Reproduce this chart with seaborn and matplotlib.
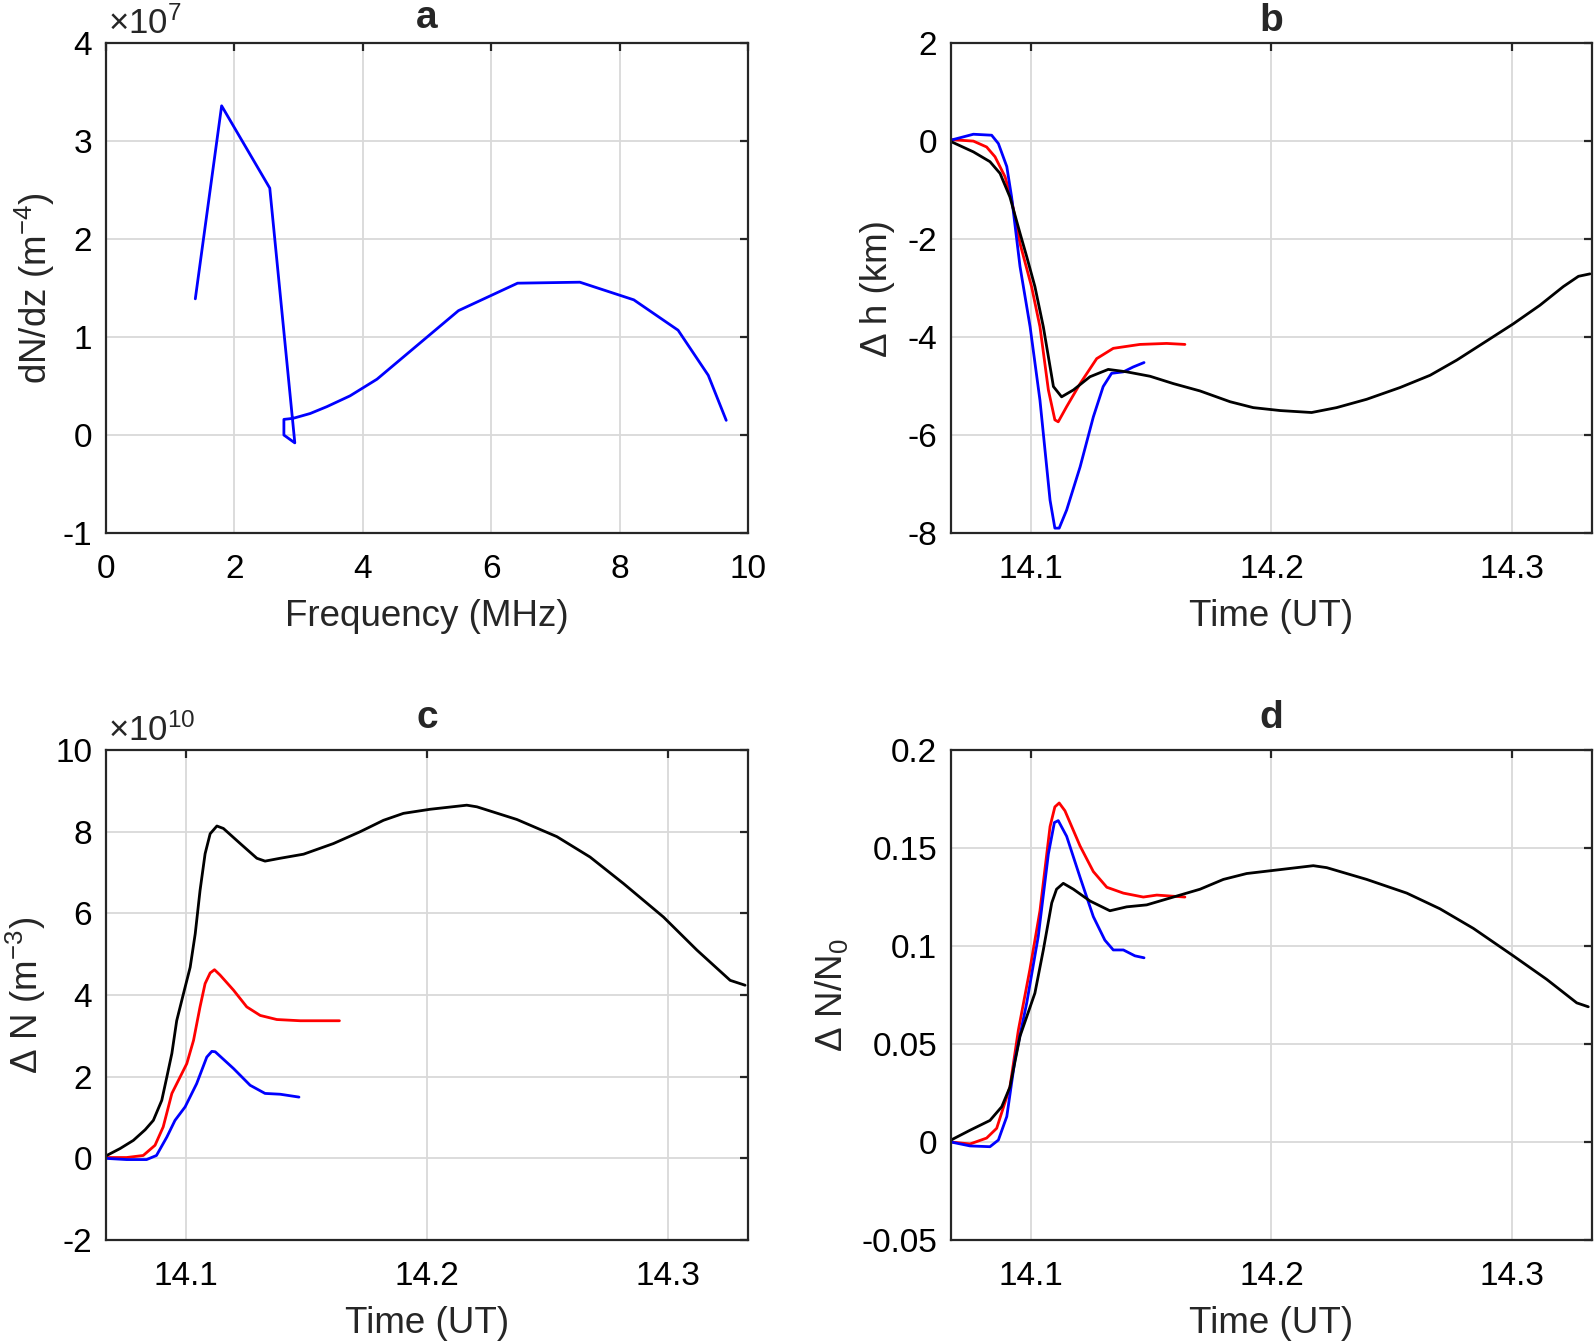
import numpy as np
import matplotlib
matplotlib.use("Agg")
import matplotlib.pyplot as plt
import seaborn as sns
from matplotlib.ticker import FuncFormatter

# panel a: gradient profile (x in MHz, y in 1e7 m^-4)
freq_mhz = [1.39, 1.80, 2.55, 2.94, 2.77, 2.77, 2.91, 3.18, 3.44, 3.80, 4.22,
            5.49, 6.41, 7.38, 8.22, 8.91, 9.38, 9.66]
dndz_e7 = [1.39, 3.36, 2.52, -0.08, 0.0, 0.16, 0.17, 0.22, 0.29, 0.40, 0.57,
           1.27, 1.55, 1.56, 1.38, 1.07, 0.61, 0.15]

# panel b: height change (km)
tb_blue = [14.0667, 14.0760, 14.0836, 14.0864, 14.0899, 14.0919, 14.0954, 14.0996,
           14.1037, 14.1079, 14.1099, 14.1117, 14.1148, 14.1204, 14.1259, 14.1300,
           14.1335, 14.1384, 14.1425, 14.1470]
dh_blue = [0.02, 0.14, 0.12, -0.05, -0.52, -1.14, -2.56, -3.79, -5.29, -7.33, -7.90,
           -7.90, -7.53, -6.65, -5.63, -5.01, -4.74, -4.71, -4.61, -4.52]
tb_red = [14.0667, 14.0760, 14.0815, 14.0850, 14.0892, 14.0919, 14.0954, 14.1002,
          14.1037, 14.1072, 14.1099, 14.1113, 14.1148, 14.1204, 14.1273, 14.1342,
          14.1453, 14.1564, 14.1640]
dh_red = [0.03, 0.0, -0.12, -0.32, -0.73, -1.20, -2.09, -2.97, -3.79, -5.08, -5.69,
          -5.73, -5.42, -4.95, -4.44, -4.23, -4.15, -4.13, -4.15]
tb_black = [14.0667, 14.0760, 14.0829, 14.0871, 14.0912, 14.0954, 14.0982, 14.1016,
            14.1051, 14.1093, 14.1127, 14.1176, 14.1245, 14.1321, 14.1398, 14.1495,
            14.1592, 14.1703, 14.1828, 14.1924, 14.2036, 14.2167, 14.2271, 14.2396,
            14.2535, 14.2660, 14.2771, 14.2895, 14.3006, 14.3117, 14.3214, 14.3277,
            14.3325]
dh_black = [-0.01, -0.22, -0.42, -0.66, -1.14, -1.88, -2.36, -2.97, -3.79, -5.01,
            -5.22, -5.08, -4.81, -4.66, -4.71, -4.80, -4.95, -5.10, -5.32, -5.44,
            -5.50, -5.54, -5.44, -5.27, -5.03, -4.78, -4.47, -4.08, -3.73, -3.35,
            -2.97, -2.76, -2.71]

# panel c: density change (1e10 m^-3)
tc_blue = [14.0663, 14.0752, 14.0835, 14.0876, 14.0919, 14.0953, 14.0995, 14.1043,
           14.1085, 14.1106, 14.1120, 14.1196, 14.1265, 14.1327, 14.1390, 14.1468]
dn_blue = [0.0, -0.03, -0.03, 0.07, 0.52, 0.93, 1.26, 1.83, 2.48, 2.62, 2.61, 2.20,
           1.79, 1.59, 1.57, 1.50]
tc_red = [14.0663, 14.0752, 14.0821, 14.0870, 14.0904, 14.0940, 14.0974, 14.1002,
          14.1030, 14.1057, 14.1078, 14.1099, 14.1117, 14.1140, 14.1196, 14.1251,
          14.1307, 14.1376, 14.1473, 14.1542, 14.1636]
dn_red = [0.02, 0.02, 0.07, 0.32, 0.77, 1.59, 1.99, 2.32, 2.89, 3.71, 4.28, 4.54,
          4.62, 4.49, 4.12, 3.71, 3.50, 3.40, 3.37, 3.37, 3.37]
tc_black = [14.0663, 14.0725, 14.0780, 14.0829, 14.0863, 14.0898, 14.0919, 14.0940,
            14.0960, 14.0988, 14.1016, 14.1037, 14.1057, 14.1078, 14.1099, 14.1127,
            14.1154, 14.1224, 14.1293, 14.1327, 14.1390, 14.1487, 14.1611, 14.1722,
            14.1819, 14.1902, 14.2013, 14.2165, 14.2207, 14.2373, 14.2539, 14.2677,
            14.2816, 14.2982, 14.3121, 14.3259, 14.3321]
dn_black = [0.05, 0.24, 0.44, 0.70, 0.93, 1.42, 1.99, 2.57, 3.37, 4.03, 4.68, 5.50,
            6.56, 7.46, 7.95, 8.14, 8.08, 7.71, 7.35, 7.28, 7.35, 7.45, 7.71, 8.00,
            8.28, 8.45, 8.55, 8.65, 8.61, 8.30, 7.88, 7.38, 6.73, 5.91, 5.10, 4.36,
            4.24]

# panel d: relative density change
td_red = [14.0667, 14.0746, 14.0815, 14.0857, 14.0912, 14.0947, 14.0995, 14.1037,
          14.1079, 14.1099, 14.1117, 14.1141, 14.1204, 14.1259, 14.1315, 14.1384,
          14.1467, 14.1523, 14.1640]
rel_red = [0.0, -0.001, 0.002, 0.007, 0.028, 0.057, 0.088, 0.118, 0.161, 0.171,
           0.173, 0.169, 0.151, 0.138, 0.130, 0.127, 0.125, 0.126, 0.125]
td_blue = [14.0667, 14.0746, 14.0829, 14.0864, 14.0899, 14.0933, 14.0982, 14.1030,
           14.1072, 14.1097, 14.1113, 14.1148, 14.1204, 14.1259, 14.1307, 14.1342,
           14.1384, 14.1432, 14.1470]
rel_blue = [0.0, -0.002, -0.0024, 0.001, 0.013, 0.042, 0.071, 0.105, 0.147, 0.163,
            0.164, 0.156, 0.135, 0.115, 0.103, 0.098, 0.098, 0.095, 0.094]
td_black = [14.0667, 14.0746, 14.0829, 14.0878, 14.0912, 14.0954, 14.1016, 14.1051,
            14.1086, 14.1106, 14.1134, 14.1176, 14.1245, 14.1328, 14.1398, 14.1481,
            14.1592, 14.1703, 14.1800, 14.1897, 14.2036, 14.2174, 14.2230, 14.2396,
            14.2563, 14.2701, 14.2840, 14.3006, 14.3145, 14.3270, 14.3318]
rel_black = [0.001, 0.006, 0.011, 0.018, 0.028, 0.054, 0.076, 0.098, 0.122, 0.129,
             0.132, 0.129, 0.123, 0.118, 0.120, 0.121, 0.125, 0.129, 0.134, 0.137,
             0.139, 0.141, 0.140, 0.134, 0.127, 0.119, 0.109, 0.095, 0.083, 0.071,
             0.069]

time_ticks = [14.1, 14.2, 14.3]
time_labels = ["14.1", "14.2", "14.3"]
rel_ticks = [-0.05, 0, 0.05, 0.1, 0.15, 0.2]
rel_labels = ["-0.05", "0", "0.05", "0.1", "0.15", "0.2"]

sns.set_style("white")
plt.rcParams['font.family'] = ['Liberation Sans', 'DejaVu Sans']
plt.rcParams['mathtext.fontset'] = 'custom'
plt.rcParams['mathtext.rm'] = 'Liberation Sans'
plt.rcParams['mathtext.it'] = 'Liberation Sans'
plt.rcParams['axes.unicode_minus'] = False

AX_COL = '#262626'
TICK_FS = 24
LAB_FS = 26.5
TITLE_FS = 28
LW = 2.0

fig = plt.figure(figsize=(15.95, 13.43), dpi=100)
pos = {
    'a': [0.0665, 0.6031, 0.4025, 0.3648],
    'b': [0.5962, 0.6031, 0.4019, 0.3648],
    'c': [0.0665, 0.0767, 0.4025, 0.3648],
    'd': [0.5962, 0.0767, 0.4019, 0.3648],
}
axes = {k: fig.add_axes(v) for k, v in pos.items()}


def style(ax, title, pad, ylab_x):
    for s in ax.spines.values():
        s.set_color(AX_COL)
        s.set_linewidth(1.6)
        s.set_visible(True)
    ax.tick_params(direction='in', length=6, width=1.6, colors=AX_COL,
                   labelcolor='black', labelsize=TICK_FS, top=True, right=True)
    ax.tick_params(axis='x', pad=15)
    ax.tick_params(axis='y', pad=10)
    ax.grid(True, color='#d9d9d9', linewidth=1.3)
    ax.set_axisbelow(True)
    ax.set_title(title, fontsize=TITLE_FS, fontweight='bold', pad=pad)
    ax.yaxis.set_label_coords(ylab_x, 0.5)
    ax.xaxis.labelpad = 10


def power_formatter(scale):
    return FuncFormatter(lambda v, p: f"{v / scale:g}")


# a
ax = axes['a']
sns.lineplot(x=freq_mhz, y=np.array(dndz_e7) * 1e7, sort=False, estimator=None,
             color='blue', lw=LW, ax=ax)
ax.set_xlim(0, 10)
ax.set_ylim(-1e7, 4e7)
ax.set_xticks(range(0, 11, 2))
ax.set_yticks(np.arange(-1, 5) * 1e7)
ax.yaxis.set_major_formatter(power_formatter(1e7))
ax.text(0.003, 1.004, r'$\times10^{7}$', transform=ax.transAxes,
        ha='left', va='bottom', fontsize=TICK_FS + 1)
ax.set_xlabel("Frequency (MHz)", fontsize=LAB_FS)
ax.set_ylabel("dN/dz (m$^{-4}$)", fontsize=LAB_FS)
style(ax, "a", 11, -0.077)

# b
ax = axes['b']
sns.lineplot(x=tb_red, y=dh_red, sort=False, estimator=None, color='red', lw=LW, ax=ax)
sns.lineplot(x=tb_blue, y=dh_blue, sort=False, estimator=None, color='blue', lw=LW, ax=ax)
sns.lineplot(x=tb_black, y=dh_black, sort=False, estimator=None, color='black', lw=LW, ax=ax)
ax.set_ylim(-8, 2)
ax.set_yticks(range(-8, 3, 2))
ax.set_ylabel("Δ h (km)", fontsize=LAB_FS)
style(ax, "b", 9, -0.088)

# c
ax = axes['c']
sns.lineplot(x=tc_red, y=np.array(dn_red) * 1e10, sort=False, estimator=None,
             color='red', lw=LW, ax=ax)
sns.lineplot(x=tc_blue, y=np.array(dn_blue) * 1e10, sort=False, estimator=None,
             color='blue', lw=LW, ax=ax)
sns.lineplot(x=tc_black, y=np.array(dn_black) * 1e10, sort=False, estimator=None,
             color='black', lw=LW, ax=ax)
ax.set_ylim(-2e10, 10e10)
ax.set_yticks(np.arange(-2, 11, 2) * 1e10)
ax.yaxis.set_major_formatter(power_formatter(1e10))
ax.text(0.003, 1.004, r'$\times10^{10}$', transform=ax.transAxes,
        ha='left', va='bottom', fontsize=TICK_FS + 1)
ax.set_ylabel("Δ N (m$^{-3}$)", fontsize=LAB_FS)
style(ax, "c", 16, -0.090)

# d
ax = axes['d']
sns.lineplot(x=td_red, y=rel_red, sort=False, estimator=None, color='red', lw=LW, ax=ax)
sns.lineplot(x=td_blue, y=rel_blue, sort=False, estimator=None, color='blue', lw=LW, ax=ax)
sns.lineplot(x=td_black, y=rel_black, sort=False, estimator=None, color='black', lw=LW, ax=ax)
ax.set_ylim(-0.05, 0.2)
ax.set_yticks(rel_ticks)
ax.set_yticklabels(rel_labels)
ax.set_ylabel("Δ N/N$_0$", fontsize=LAB_FS)
style(ax, "d", 16, -0.158)

for k in ['b', 'c', 'd']:
    ax = axes[k]
    ax.set_xlim(14 + 4 / 60, 14 + 20 / 60)
    ax.set_xticks(time_ticks)
    ax.set_xticklabels(time_labels)
    ax.set_xlabel("Time (UT)", fontsize=LAB_FS)

fig.savefig("out.png", dpi=100)
